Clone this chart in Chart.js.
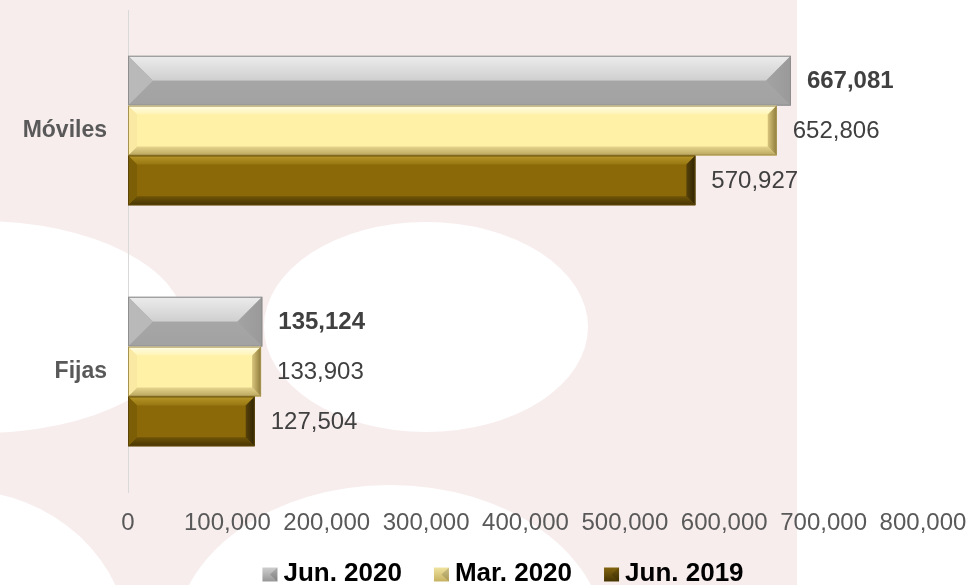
<!DOCTYPE html>
<html>
<head>
<meta charset="utf-8">
<title>Líneas móviles y fijas</title>
<script src="https://cdn.jsdelivr.net/npm/chart.js@4.4.1/dist/chart.umd.min.js"></script>
<style>
  html, body { margin: 0; padding: 0; background: #ffffff; }
  #wrap { width: 969px; height: 585px; position: relative; }
</style>
</head>
<body>
<div id="wrap"><canvas id="lineChart"></canvas></div>
<script>
// datos
const categories = ["Móviles", "Fijas"];
const seriesNames = ["Jun. 2020", "Mar. 2020", "Jun. 2019"];
const jun2020 = [667081, 135124];
const mar2020 = [652806, 133903];
const jun2019 = [570927, 127504];
const xTicks = [0, 100000, 200000, 300000, 400000, 500000, 600000, 700000, 800000];

const FONT = "Arial, 'Liberation Sans', sans-serif";
const fmt = (v) => Number(v).toLocaleString("en-US");

// estilos de bisel por serie
const bevels = [
  { size: "half", top: ["#ececec", "#cfcfcf"], bottom: ["#a6a6a6", "#a2a2a2"],
    left: "#b9b9b9", right: ["#a3a3a3", "#9a9a9a"], line: "#8e8e8e" },
  { size: 9, top: ["#fffde4", "#fff3b4"], bottom: ["#e6d58e", "#b9a55e"],
    left: "#f9e9a2", right: ["#d9c57c", "#8d7b3b"], line: "#a69350" },
  { size: 9, top: ["#b8972a", "#977710"], bottom: ["#6f5407", "#473503"],
    left: "#7c5e07", right: ["#57420a", "#2e2302"], line: "#5a4406" },
];
const legendColors = [["#d6d6d6", "#9a9a9a"], ["#f6eaa8", "#c9b565"], ["#8c6c12", "#4a3804"]];

// fondo rosado con círculos blancos (marca de agua)
const backdrop = {
  id: "backdrop",
  beforeDraw(chart) {
    const c = chart.ctx;
    c.save();
    c.fillStyle = "#ffffff";
    c.fillRect(0, 0, chart.width, chart.height);
    c.fillStyle = "#f8eded";
    c.fillRect(0, 0, 797, chart.height);
    c.fillStyle = "#ffffff";
    [[426, 327, 162, 105], [-20, 327, 205, 106], [390, 640, 215, 155], [-40, 650, 170, 160]]
      .forEach(([x, y, rx, ry]) => {
        c.beginPath();
        c.ellipse(x, y, rx, ry, 0, 0, Math.PI * 2);
        c.fill();
      });
    c.restore();
  },
};

function poly(c, pts, fill) {
  c.beginPath();
  c.moveTo(pts[0][0], pts[0][1]);
  for (let i = 1; i < pts.length; i++) c.lineTo(pts[i][0], pts[i][1]);
  c.closePath();
  c.fillStyle = fill;
  c.fill();
}

// bisel tipo Excel sobre cada barra + etiquetas de valor
const bevelBars = {
  id: "bevelBars",
  afterDatasetsDraw(chart) {
    const c = chart.ctx;
    chart.data.datasets.forEach((ds, di) => {
      const meta = chart.getDatasetMeta(di);
      if (meta.hidden) return;
      const st = bevels[di];
      meta.data.forEach((bar, i) => {
        const { x, y, base, height } = bar.getProps(["x", "y", "base", "height"], true);
        const t = y - height / 2, b = y + height / 2;
        const l = Math.min(base, x), r = Math.max(base, x);
        const s = st.size === "half" ? height / 2 : Math.min(st.size, (r - l) / 2);
        c.save();
        let g = c.createLinearGradient(0, t, 0, t + s);
        g.addColorStop(0, st.top[0]); g.addColorStop(1, st.top[1]);
        poly(c, [[l, t], [r, t], [r - s, t + s], [l + s, t + s]], g);
        g = c.createLinearGradient(0, b - s, 0, b);
        g.addColorStop(0, st.bottom[0]); g.addColorStop(1, st.bottom[1]);
        poly(c, [[l, b], [r, b], [r - s, b - s], [l + s, b - s]], g);
        poly(c, [[l, t], [l + s, t + s], [l + s, b - s], [l, b]], st.left);
        g = c.createLinearGradient(r - s, 0, r, 0);
        g.addColorStop(0, st.right[0]); g.addColorStop(1, st.right[1]);
        poly(c, [[r, t], [r - s, t + s], [r - s, b - s], [r, b]], g);
        c.strokeStyle = st.line;
        c.lineWidth = 1;
        c.strokeRect(l + 0.5, t + 0.5, r - l - 1, height - 1);
        c.restore();

        c.save();
        c.font = (di === 0 ? "bold " : "") + "24px " + FONT;
        c.fillStyle = "#404040";
        c.textAlign = "left";
        c.textBaseline = "middle";
        c.fillText(fmt(ds.data[i]), r + 16, y + 1);
        c.restore();
      });
    });
  },
};

// leyenda dibujada a mano (espaciado como en el original)
const bottomLegend = {
  id: "bottomLegend",
  afterDraw(chart) {
    const c = chart.ctx;
    const cy = 573, box = 15, gapText = 6, gapItem = 32, cx = 503;
    c.save();
    c.font = "bold 26px " + FONT;
    c.textBaseline = "middle";
    c.textAlign = "left";
    const widths = chart.data.datasets.map((ds) => c.measureText(ds.label).width);
    const total = widths.reduce((a, w) => a + box + gapText + w, 0) + gapItem * (widths.length - 1);
    let x = cx - total / 2;
    chart.data.datasets.forEach((ds, i) => {
      const g = c.createLinearGradient(0, cy - box / 2, 0, cy + box / 2);
      g.addColorStop(0, legendColors[i][0]);
      g.addColorStop(1, legendColors[i][1]);
      c.fillStyle = g;
      c.fillRect(x, cy - box / 2 + 2, box, box - 1);
      poly(c, [[x + box, cy - box / 2 + 2], [x + box, cy + box / 2 + 1], [x + box / 2, cy + 1.5]], "rgba(0,0,0,0.15)");
      c.fillStyle = "#000000";
      c.fillText(ds.label, x + box + gapText, cy + 1);
      x += box + gapText + widths[i] + gapItem;
    });
    c.restore();
  },
};

const ctx = document.getElementById("lineChart").getContext("2d");
new Chart(ctx, {
  type: "bar",
  data: {
    labels: categories,
    datasets: [
      { label: seriesNames[0], data: jun2020, backgroundColor: "#a5a5a5" },
      { label: seriesNames[1], data: mar2020, backgroundColor: "#fff1a6" },
      { label: seriesNames[2], data: jun2019, backgroundColor: "#8b6909" },
    ],
  },
  options: {
    indexAxis: "y",
    responsive: true,
    maintainAspectRatio: false,
    animation: false,
    layout: { padding: { top: 10, left: 0, right: 0, bottom: 31 } },
    datasets: {
      bar: { categoryPercentage: 0.62, barPercentage: 1.0, borderWidth: 0 },
    },
    plugins: {
      title: { display: false },
      tooltip: { enabled: false },
      legend: { display: false },
    },
    scales: {
      x: {
        min: 0,
        max: 800000,
        afterBuildTicks: (scale) => {
          scale.ticks = xTicks.map((v) => ({ value: v }));
        },
        afterFit: (scale) => {
          scale.paddingLeft = 0;
          scale.paddingRight = 46;
        },
        grid: { display: false, drawTicks: false },
        border: { display: false },
        ticks: {
          padding: 19,
          color: "#595959",
          font: { family: FONT, size: 24, lineHeight: 1 },
          maxRotation: 0,
          autoSkip: false,
          callback: (v) => fmt(v),
        },
      },
      y: {
        grid: { display: false, drawTicks: false },
        border: { display: true, color: "#d9d9d9", width: 1 },
        afterFit: (scale) => {
          scale.width = 128;
          scale.paddingTop = 0;
          scale.paddingBottom = 0;
        },
        ticks: {
          padding: 21,
          color: "#595959",
          font: { family: FONT, size: 23, weight: "bold" },
        },
      },
    },
  },
  plugins: [backdrop, bevelBars, bottomLegend],
});
</script>
</body>
</html>
